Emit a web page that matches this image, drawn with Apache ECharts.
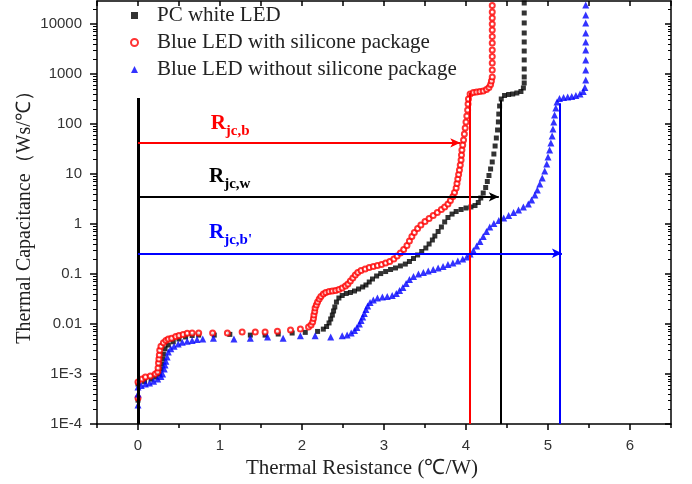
<!DOCTYPE html>
<html>
<head>
<meta charset="utf-8">
<script src="https://cdn.jsdelivr.net/npm/echarts@6/dist/echarts.min.js"></script>
<style>html,body{margin:0;padding:0;background:#fff}#main{width:692px;height:484px}</style>
</head>
<body>
<div id="main"></div>
<script>
var seriesNames = ['PC white LED', 'Blue LED with silicone package', 'Blue LED without silicone package'];

// [thermal resistance, thermal capacitance]
var whiteLed = [[0,0.0003],[0,0.00063],[0.08,0.00071],[0.16,0.00079],[0.22,0.00087],[0.26,0.001],[0.28,0.00126],[0.29,0.00158],[0.30,0.002],[0.31,0.0025],[0.33,0.0032],[0.37,0.0038],[0.43,0.0044],[0.50,0.005],[0.58,0.0055],[0.66,0.0059],[0.74,0.006],
  [0.93,0.006],[1.12,0.0062],[1.37,0.006],[1.55,0.006],[1.71,0.0063],[1.88,0.0066],[2.04,0.0068],[2.19,0.0071],
  [2.26,0.0079],[2.30,0.0089],[2.33,0.0105],[2.35,0.0126],[2.37,0.0151],[2.385,0.0182],[2.40,0.0219],[2.42,0.0275],[2.45,0.0331],[2.49,0.0372],[2.54,0.0407],[2.59,0.0427],[2.64,0.0457],[2.69,0.0501],[2.74,0.055],[2.78,0.0603],[2.82,0.0692],[2.86,0.0794],[2.91,0.0912],[2.96,0.102],[3.02,0.112],[3.08,0.123],[3.14,0.132],[3.20,0.145],[3.26,0.158],[3.31,0.178],[3.36,0.204],[3.41,0.24],[3.46,0.282],[3.51,0.331],[3.55,0.398],[3.59,0.479],[3.62,0.575],[3.66,0.708],[3.70,0.871],[3.74,1.10],[3.78,1.35],[3.83,1.58],[3.88,1.78],[3.94,1.95],[4.00,2.09],[4.06,2.19],[4.11,2.34],[4.15,2.69],[4.18,3.31],[4.21,4.17],[4.24,5.37],[4.26,7.08],[4.28,9.33],[4.30,12.6],[4.32,17.4],[4.34,25.1],[4.355,36.3],[4.37,52.5],[4.385,75.9],[4.395,110],[4.40,158],[4.41,229],[4.43,316],[4.47,372],[4.52,389],[4.57,398],[4.62,417],[4.67,447],[4.70,525],[4.71,661],
  [4.71,871],[4.71,1260],[4.71,1910],[4.71,2880],[4.71,4370],[4.71,6610],[4.71,10500],[4.71,16600],[4.71,26300]];

var blueSilicone = [[0,0.00033],[0,0.00069],[0.05,0.00079],[0.09,0.00087],[0.15,0.00091],[0.21,0.001],[0.24,0.0011],[0.245,0.00132],[0.25,0.00166],[0.255,0.002],[0.26,0.0024],[0.265,0.003],[0.28,0.0036],[0.31,0.0042],[0.34,0.0047],[0.37,0.005],[0.41,0.0052],[0.46,0.0056],[0.50,0.0059],[0.55,0.0062],[0.60,0.0065],[0.66,0.0066],[0.74,0.0066],
  [0.91,0.0066],[1.09,0.0066],[1.27,0.0069],[1.43,0.0069],[1.55,0.0069],[1.70,0.0072],[1.86,0.0076],[1.98,0.0079],[2.08,0.0087],
  [2.11,0.0095],[2.13,0.011],[2.14,0.0129],[2.145,0.0151],[2.155,0.0178],[2.16,0.0209],[2.175,0.024],[2.19,0.0275],[2.21,0.0316],[2.23,0.0355],[2.26,0.0398],[2.29,0.0427],[2.33,0.0447],[2.37,0.0457],[2.41,0.0468],[2.45,0.049],[2.49,0.0525],[2.53,0.0575],[2.56,0.063],[2.59,0.0724],[2.62,0.0832],[2.65,0.0955],[2.68,0.107],[2.72,0.117],[2.77,0.126],[2.82,0.135],[2.87,0.141],[2.92,0.148],[2.97,0.155],[3.02,0.166],[3.07,0.178],[3.12,0.20],[3.16,0.229],[3.20,0.263],[3.24,0.309],[3.28,0.372],[3.31,0.457],[3.34,0.562],[3.37,0.676],[3.41,0.813],[3.45,0.955],[3.50,1.12],[3.55,1.29],[3.60,1.48],[3.65,1.70],[3.70,1.95],[3.74,2.19],[3.78,2.51],[3.81,2.95],[3.84,3.55],[3.86,4.27],[3.88,5.25],[3.89,6.46],[3.90,7.94],[3.91,9.77],[3.92,12.0],[3.93,15.1],[3.94,19.1],[3.945,24.0],[3.95,30.2],[3.96,38.0],[3.97,47.9],[3.98,63.1],[3.99,83.2],[4.00,110],[4.01,145],[4.02,191],[4.025,251],[4.03,316],[4.05,398],[4.09,427],[4.13,437],[4.17,447],[4.21,457],[4.25,490],[4.28,537],[4.30,617],[4.31,724],
  [4.32,871],[4.32,1200],[4.32,1660],[4.32,2240],[4.32,3020],[4.32,4170],[4.32,5620],[4.32,7590],[4.32,10000],[4.32,13200],[4.32,17400],[4.32,23400]];

var blueBare = [[0,0.00024],[0,0.0004],[0,0.00055],[0.04,0.00059],[0.09,0.00063],[0.14,0.00066],[0.19,0.00072],[0.24,0.00079],[0.28,0.00089],[0.30,0.001],[0.32,0.00126],[0.33,0.00151],[0.34,0.0018],[0.355,0.0022],[0.37,0.00275],[0.40,0.0032],[0.44,0.0036],[0.49,0.004],[0.54,0.0043],[0.60,0.0045],[0.66,0.0047],[0.72,0.0049],[0.79,0.005],
  [0.92,0.0052],[1.17,0.005],[1.37,0.0052],[1.58,0.0055],[1.77,0.0052],[1.98,0.0058],[2.16,0.0058],[2.35,0.0055],[2.49,0.0058],
  [2.55,0.006],[2.60,0.0066],[2.64,0.0074],[2.67,0.0085],[2.70,0.01],[2.72,0.0117],[2.74,0.0138],[2.76,0.0162],[2.78,0.0195],[2.80,0.0229],[2.83,0.0269],[2.87,0.0302],[2.92,0.0331],[2.98,0.0347],[3.04,0.0355],[3.10,0.0372],[3.15,0.0407],[3.19,0.0468],[3.23,0.0537],[3.27,0.0646],[3.31,0.0776],[3.36,0.0891],[3.42,0.1],[3.48,0.107],[3.54,0.115],[3.60,0.123],[3.66,0.132],[3.72,0.141],[3.78,0.155],[3.84,0.166],[3.90,0.182],[3.96,0.2],[4.01,0.219],[4.05,0.251],[4.09,0.295],[4.13,0.363],[4.17,0.447],[4.21,0.562],[4.25,0.708],[4.29,0.871],[4.34,1.02],[4.40,1.17],[4.46,1.32],[4.52,1.48],[4.58,1.70],[4.64,1.91],[4.70,2.19],[4.76,2.51],[4.80,3.02],[4.84,3.80],[4.87,4.79],[4.90,6.31],[4.93,8.32],[4.96,11.5],[4.985,15.8],[5.00,21.9],[5.02,30.2],[5.035,41.7],[5.05,57.5],[5.06,79.4],[5.07,110],[5.08,151],[5.095,209],[5.11,275],[5.14,324],[5.19,339],[5.24,347],[5.29,355],[5.34,372],[5.39,398],[5.43,447],[5.45,537],
  [5.46,759],[5.46,1200],[5.46,1910],[5.46,3020],[5.46,4370],[5.46,6610],[5.46,10500],[5.46,15100],[5.46,24000]];

// R_jc guide lines: order = white, silicone, bare
var rjcX = [4.42, 4.04, 5.14];
var rjcLevel = [3.5, 42, 0.26];
var rjcArrowEnd = [4.40, 3.93, 5.17];
var rjcTop = [300, 420, 260];
var rjcText = ['jc,w', 'jc,b', "jc,b'"];
var rjcLabelAt = [[0.86, 6.3], [0.88, 72], [0.86, 0.48]];
var zeroLineTop = 330;

var xTicks = [0, 1, 2, 3, 4, 5, 6];
var xHalfTicks = [-0.5, 0.5, 1.5, 2.5, 3.5, 4.5, 5.5, 6.5];
var yTickLabels = ['1E-4', '1E-3', '0.01', '0.1', '1', '10', '100', '1000', '10000'];
var yMin = 1e-4, yMax = 28840;

var colors = ['#000000', '#ff0000', '#0000ff'];
var serif = "'Liberation Serif', 'Times New Roman', serif";
var sans = "'Liberation Sans', Arial, sans-serif";

var yTop = Math.log10(yMax);
var yMajor = [], yMinor = [];
for (var d = -4; d <= 4; d++) {
    yMajor.push(d);
    for (var k = 2; k <= 9; k++) {
        var v = d + Math.log10(k);
        if (v < yTop) yMinor.push(v);
    }
}

function guides(i, extra) {
    var c = colors[i];
    var data = [
        [{ coord: [0, rjcLevel[i]], symbol: 'none' }, { coord: [rjcArrowEnd[i], rjcLevel[i]], symbol: 'arrow', symbolSize: [7, 10] }],
        [{ coord: [rjcX[i], yMin], symbol: 'none' }, { coord: [rjcX[i], rjcTop[i]], symbol: 'none' }]
    ];
    return {
        silent: true,
        animation: false,
        symbol: ['none', 'none'],
        label: { show: false },
        lineStyle: { color: c, width: 2, type: 'solid' },
        emphasis: { disabled: true },
        data: data.concat(extra || [])
    };
}

function note(i) {
    var c = colors[i];
    return {
        silent: true,
        animation: false,
        data: [{
            coord: rjcLabelAt[i],
            symbol: 'circle',
            symbolSize: 1,
            itemStyle: { color: 'rgba(0,0,0,0)' },
            label: {
                show: true,
                position: 'right',
                distance: 0,
                formatter: '{R|R}{s|' + rjcText[i] + '}',
                rich: {
                    R: { fontSize: 21, fontWeight: 'bold', fontFamily: serif, color: c, lineHeight: 22, verticalAlign: 'top' },
                    s: { fontSize: 15, fontWeight: 'bold', fontFamily: serif, color: c, lineHeight: 36, verticalAlign: 'middle' }
                }
            }
        }]
    };
}

var myChart = echarts.init(document.getElementById('main'));

var tickLine = { color: '#000', width: 1.5 };

function frameAxis(pos, extra) {
    // plain tick-only axis laid over the frame
    var ax = {
        type: 'value',
        position: pos,
        axisLine: { show: false, onZero: false },
        axisLabel: { show: false },
        splitLine: { show: false }
    };
    for (var key in extra) ax[key] = extra[key];
    return ax;
}

option = {
    animation: false,
    backgroundColor: '#fff',
    grid: { left: 97, right: 21, top: 1, bottom: 60 },
    legend: {
        orient: 'vertical',
        left: 125,
        top: 0,
        itemWidth: 7,
        itemHeight: 7,
        itemGap: 6,
        selectedMode: false,
        data: seriesNames,
        textStyle: { fontFamily: serif, fontSize: 21, color: '#222', padding: [0, 0, 0, 14] }
    },
    xAxis: [{
        type: 'value',
        position: 'bottom',
        min: -0.5,
        max: 6.5,
        name: 'Thermal Resistance (℃/W)',
        nameLocation: 'middle',
        nameGap: 34,
        nameTextStyle: { fontFamily: serif, fontSize: 21, color: '#222', padding: [0, 44, 0, 0] },
        axisLine: { onZero: false, lineStyle: tickLine },
        axisTick: { customValues: xTicks, length: 6, lineStyle: tickLine },
        axisLabel: { customValues: xTicks, color: '#333', fontSize: 15, fontFamily: sans, margin: 14 },
        splitLine: { show: false }
    },
    frameAxis('bottom', {
        min: -0.5, max: 6.5,
        axisTick: { customValues: xHalfTicks, length: 4, lineStyle: tickLine }
    }),
    frameAxis('top', {
        min: -0.5, max: 6.5,
        axisLine: { show: true, onZero: false, lineStyle: tickLine },
        axisTick: { inside: true, customValues: xHalfTicks.concat(xTicks), length: 5, lineStyle: tickLine }
    })],
    yAxis: [{
        type: 'log',
        logBase: 10,
        position: 'left',
        min: yMin,
        max: yMax,
        interval: 1,
        name: 'Thermal Capacitance（Ws/℃）',
        nameLocation: 'middle',
        nameGap: 62,
        nameMoveOverlap: false,
        nameTextStyle: { fontFamily: serif, fontSize: 20, color: '#222' },
        axisLine: { onZero: false, lineStyle: tickLine },
        axisTick: { length: 7, lineStyle: tickLine },
        axisLabel: {
            color: '#333', fontSize: 15, fontFamily: sans, margin: 15, showMaxLabel: false,
            formatter: function (v) {
                var idx = Math.round(Math.log10(v)) + 4;
                return yTickLabels[idx] || '';
            }
        },
        splitLine: { show: false }
    },
    frameAxis('left', {
        min: -4, max: yTop,
        axisTick: { customValues: yMinor, length: 4, lineStyle: { color: '#000', width: 1 } }
    }),
    frameAxis('right', {
        min: -4, max: yTop,
        axisLine: { show: true, onZero: false, lineStyle: tickLine },
        axisTick: { inside: true, customValues: yMajor, length: 6, lineStyle: tickLine }
    }),
    frameAxis('right', {
        min: -4, max: yTop,
        axisTick: { inside: true, customValues: yMinor, length: 3, lineStyle: { color: '#000', width: 1 } }
    })],
    series: [{
        name: seriesNames[0],
        type: 'scatter',
        data: whiteLed,
        symbol: 'rect',
        symbolSize: 5,
        itemStyle: { color: colors[0] },
        markLine: guides(0, [[{ coord: [0, yMin], symbol: 'none', lineStyle: { width: 3 } }, { coord: [0, zeroLineTop], symbol: 'none' }]]),
        markPoint: note(0)
    }, {
        name: seriesNames[1],
        type: 'scatter',
        data: blueSilicone,
        symbol: 'emptyCircle',
        symbolSize: 5,
        itemStyle: { color: colors[1], borderWidth: 1 },
        markLine: guides(1),
        markPoint: note(1)
    }, {
        name: seriesNames[2],
        type: 'scatter',
        data: blueBare,
        symbol: 'triangle',
        symbolSize: 7,
        itemStyle: { color: colors[2] },
        markLine: guides(2),
        markPoint: note(2)
    }]
};
myChart.setOption(option);
</script>
</body>
</html>
